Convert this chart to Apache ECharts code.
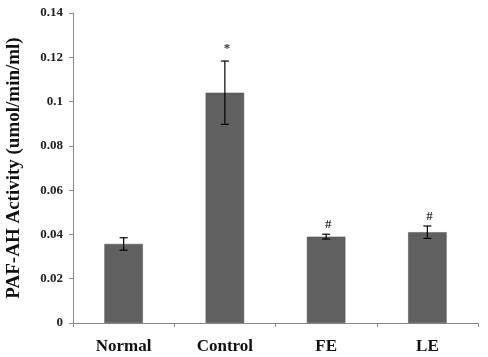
<!DOCTYPE html>
<html>
<head>
<meta charset="utf-8">
<script src="https://cdn.jsdelivr.net/npm/echarts@6/dist/echarts.min.js"></script>
<style>
  html, body { margin: 0; padding: 0; background: #fff; }
  #main { width: 488px; height: 357px; }
</style>
</head>
<body>
<div id="main"></div>
<script>
const categories = ['Normal', 'Control', 'FE', 'LE']
const means = [0.0357, 0.104, 0.039, 0.041]
const errors = [0.0028, 0.0143, 0.0011, 0.0028]
const marks = ['', '*', '#', '#']
const yTicks = [0, 0.02, 0.04, 0.06, 0.08, 0.1, 0.12, 0.14]

const font = 'Liberation Serif'
const chart = echarts.init(document.getElementById('main'))

chart.setOption({
  animation: false,
  grid: { left: 73, right: 10, top: 13, bottom: 34, outerBoundsMode: 'none' },
  xAxis: {
    type: 'category',
    data: categories,
    axisLine: { lineStyle: { color: '#8a8a8a' } },
    axisTick: { show: true, length: 4, lineStyle: { color: '#8a8a8a' } },
    axisLabel: { color: '#111', fontFamily: font, fontWeight: 'bold', fontSize: 17, margin: 15 }
  },
  yAxis: {
    type: 'value',
    min: 0,
    max: 0.14,
    interval: 0.02,
    name: 'PAF-AH Activity (umol/min/ml)',
    nameLocation: 'middle',
    nameGap: 49,
    nameTextStyle: { color: '#111', fontFamily: font, fontWeight: 'bold', fontSize: 19 },
    axisLine: { show: true, lineStyle: { color: '#8a8a8a' } },
    axisTick: { show: true, length: 4, lineStyle: { color: '#8a8a8a' } },
    splitLine: { show: false },
    axisLabel: {
      color: '#222', fontFamily: font, fontWeight: 'bold', fontSize: 13, margin: 10,
      formatter: v => yTicks.includes(+v.toFixed(2)) ? String(+v.toFixed(2)) : ''
    }
  },
  series: [
    {
      type: 'bar',
      data: means,
      barWidth: '38%',
      itemStyle: { color: '#606060', borderColor: '#505050', borderWidth: 0.5 }
    },
    {
      type: 'custom',
      data: means.map((m, i) => [i, m - errors[i], m + errors[i]]),
      renderItem: (params, api) => {
        const i = api.value(0)
        const lo = api.coord([i, api.value(1)])
        const hi = api.coord([i, api.value(2)])
        const x = lo[0]
        const cap = 4
        const style = { stroke: '#000', lineWidth: 1.2 }
        const mark = marks[i]
        const children = [
          { type: 'line', shape: { x1: x, y1: lo[1], x2: x, y2: hi[1] }, style },
          { type: 'line', shape: { x1: x - cap, y1: hi[1], x2: x + cap, y2: hi[1] }, style },
          { type: 'line', shape: { x1: x - cap, y1: lo[1], x2: x + cap, y2: lo[1] }, style }
        ]
        if (mark) {
          children.push({
            type: 'text',
            style: {
              text: mark, x: x + 2, y: hi[1] - (mark === '*' ? 6 : 3),
              textAlign: 'center', textVerticalAlign: 'bottom',
              fill: '#333', font: 'bold 13px ' + font
            }
          })
        }
        return { type: 'group', children }
      },
      z: 3
    }
  ]
})
</script>
</body>
</html>
